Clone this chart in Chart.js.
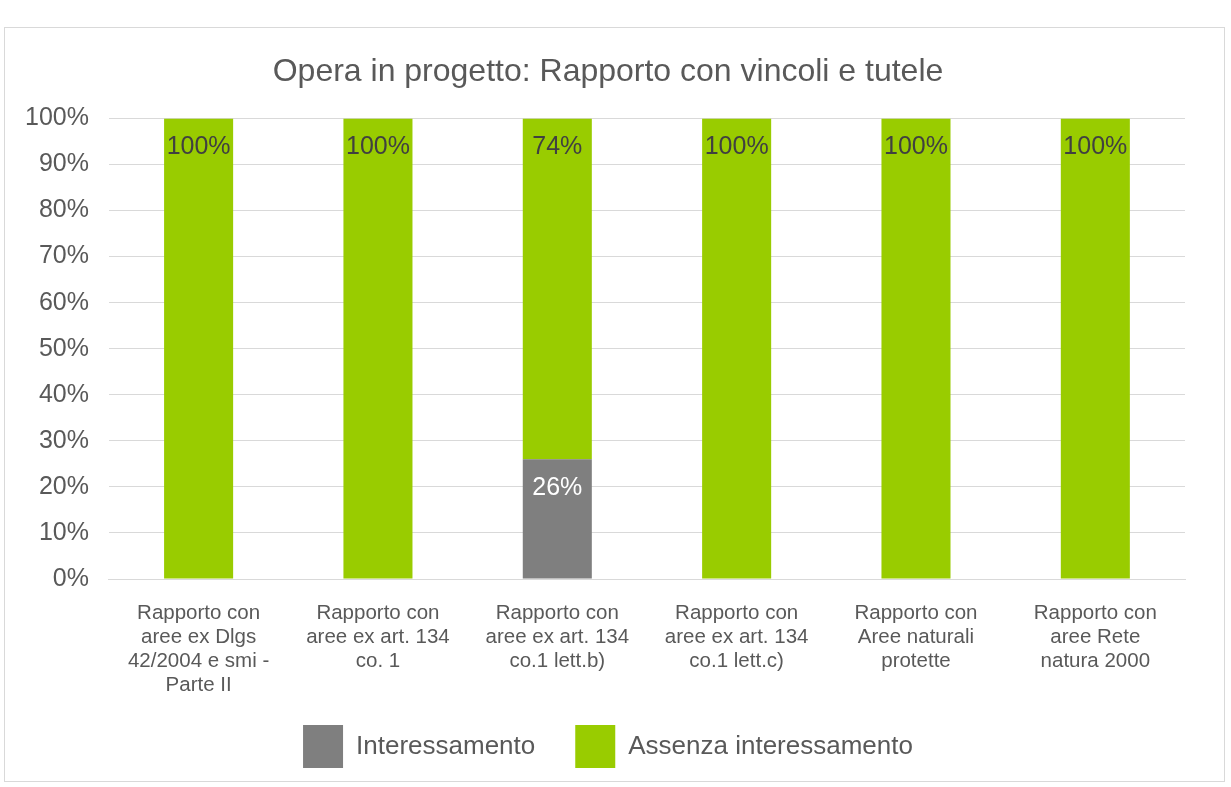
<!DOCTYPE html>
<html>
<head>
<meta charset="utf-8">
<script src="https://cdn.jsdelivr.net/npm/chart.js@4/dist/chart.umd.min.js"></script>
<style>
  html, body { margin: 0; padding: 0; background: #fff; }
  #box { position: absolute; left: 4px; top: 27px; width: 1219px; height: 753px; border: 1px solid #d9d9d9; }
  canvas { display: block; }
</style>
</head>
<body>
<div id="box"><canvas id="c" width="1219" height="753"></canvas></div>
<script>
const categories = [
  ["Rapporto con", "aree ex Dlgs", "42/2004 e smi -", "Parte II"],
  ["Rapporto con", "aree ex art. 134", "co. 1"],
  ["Rapporto con", "aree ex art. 134", "co.1 lett.b)"],
  ["Rapporto con", "aree ex art. 134", "co.1 lett.c)"],
  ["Rapporto con", "Aree naturali", "protette"],
  ["Rapporto con", "aree Rete", "natura 2000"]
];
const interessamento = [0, 0, 26, 0, 0, 0];
const assenza = [100, 100, 74, 100, 100, 100];
const seriesNames = ["Interessamento", "Assenza interessamento"];
const titleText = "Opera in progetto: Rapporto con vincoli e tutele";

const FONT = "'Liberation Sans', Arial, sans-serif";

const labelPlugin = {
  id: 'barLabels',
  afterLayout(chart) {
    // widen the label clip areas so tick labels that overflow the trimmed axis boxes stay visible
    chart.scales.y.left = 0;
    chart.scales.x.bottom += 60;
  },
  afterDatasetsDraw(chart) {
    const ctx = chart.ctx;
    ctx.save();
    ctx.font = "25px " + FONT;
    ctx.textAlign = 'center';
    ctx.textBaseline = 'middle';
    chart.data.datasets.forEach((ds, di) => {
      const meta = chart.getDatasetMeta(di);
      meta.data.forEach((el, i) => {
        const v = ds.data[i];
        if (!v) return;
        ctx.fillStyle = ds.labelColor;
        ctx.fillText(v + '%', el.x, el.y + 29);
      });
    });
    ctx.restore();
  }
};

new Chart(document.getElementById('c'), {
  type: 'bar',
  data: {
    labels: categories,
    datasets: [
      { label: seriesNames[0], data: interessamento, backgroundColor: '#7f7f7f', labelColor: '#ffffff',
        barPercentage: 0.77, categoryPercentage: 0.5 },
      { label: seriesNames[1], data: assenza, backgroundColor: '#99cc00', labelColor: '#404040',
        barPercentage: 0.77, categoryPercentage: 0.5 }
    ]
  },
  options: {
    responsive: false,
    animation: false,
    layout: { padding: { left: 26, right: 39, top: 0, bottom: 3 } },
    plugins: {
      title: {
        display: true, text: titleText, color: '#595959',
        font: { family: FONT, size: 32, weight: 'normal', lineHeight: 1.2 },
        padding: { top: 25, bottom: 27 }
      },
      legend: {
        position: 'bottom',
        labels: {
          color: '#595959', font: { family: FONT, size: 26 },
          boxWidth: 40, boxHeight: 43, padding: 40
        }
      },
      tooltip: { enabled: false }
    },
    scales: {
      x: {
        stacked: true,
        grid: { display: false, drawTicks: false },
        border: { display: true, color: '#d9d9d9' },
        ticks: { color: '#595959', font: { family: FONT, size: 20.5, lineHeight: 1.17 }, padding: 22, maxRotation: 0, autoSkip: false },
        afterFit(scale) { scale.height -= 34; }
      },
      y: {
        stacked: true, min: 0, max: 100,
        grid: { color: '#d9d9d9', drawTicks: false },
        border: { display: false },
        ticks: { stepSize: 10, color: '#595959', font: { family: FONT, size: 25 }, padding: 20,
          callback: v => v + '%' },
        afterFit(scale) { scale.width -= 26; }
      }
    }
  },
  plugins: [labelPlugin]
});
</script>
</body>
</html>
